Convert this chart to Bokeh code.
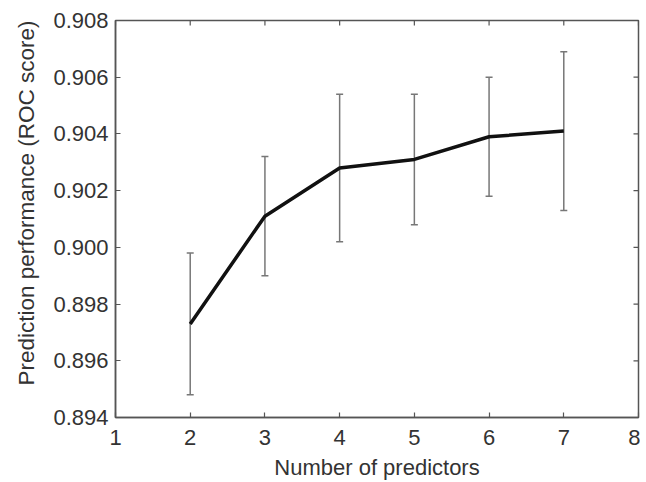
import math
from bokeh.plotting import figure
from bokeh.models import ColumnDataSource, Whisker, TeeHead, FixedTicker, PrintfTickFormatter, Range1d, Title
from bokeh.embed import file_html
from bokeh.resources import INLINE

predictors = [2, 3, 4, 5, 6, 7]
roc_mean = [0.8973, 0.9011, 0.9028, 0.9031, 0.9039, 0.9041]
roc_upper = [0.8998, 0.9032, 0.9054, 0.9054, 0.9060, 0.9069]
roc_lower = [0.8948, 0.8990, 0.9002, 0.9008, 0.9018, 0.9013]
x_ticks = [1, 2, 3, 4, 5, 6, 7, 8]
y_ticks = [0.894, 0.896, 0.898, 0.900, 0.902, 0.904, 0.906, 0.908]
x_min, x_max = 1, 8
y_min, y_max = 0.894, 0.908
x_title = "Number of predictors"
y_title = "Prediction performance (ROC score)"

src = ColumnDataSource(dict(x=predictors, y=roc_mean, upper=roc_upper, lower=roc_lower))

FONT = "Liberation Sans"
AX = "#555555"
TXT = "#333333"

p = figure(width=640, height=482, output_backend="svg", toolbar_location=None,
           x_range=Range1d(x_min, x_max), y_range=Range1d(y_min, y_max),
           min_border_left=115, min_border_right=2, min_border_top=20, min_border_bottom=61)
p.xgrid.visible = False
p.ygrid.visible = False
p.outline_line_color = AX
p.outline_line_width = 1.5
p.background_fill_color = "white"
p.border_fill_color = "white"

for ax in (p.xaxis[0], p.yaxis[0]):
    ax.axis_line_color = AX
    ax.axis_line_width = 1.5
    ax.major_tick_line_color = AX
    ax.major_tick_line_width = 1.2
    ax.major_tick_in = 5
    ax.major_tick_out = 0
    ax.minor_tick_line_color = None
    ax.major_label_text_font = FONT
    ax.major_label_text_color = TXT
    ax.major_label_text_font_size = "22px"
    ax.axis_label_text_font = FONT
    ax.axis_label_text_color = TXT
    ax.axis_label_text_font_style = "normal"

p.xaxis.ticker = FixedTicker(ticks=x_ticks)
p.yaxis.ticker = FixedTicker(ticks=y_ticks)
p.yaxis.formatter = PrintfTickFormatter(format="%.3f")
p.xaxis.axis_label = x_title
p.xaxis.axis_label_text_font_size = "22px"
p.xaxis.major_label_standoff = 12
p.yaxis.major_label_standoff = 7
p.xaxis.axis_label_standoff = 7

# y-axis title, sitting a little above the frame centre as in the original
p.add_layout(Title(text=y_title, align="right", offset=0, text_font=FONT,
                   text_font_size="22.5px", text_font_style="normal",
                   text_color=TXT, standoff=23), "left")

# inward ticks on the right and top edges of the box
p.ray(x=[x_max] * len(y_ticks), y=y_ticks, length=5, length_units="screen",
      angle=math.pi, line_color=AX, line_width=1.2)
p.ray(x=x_ticks, y=[y_max] * len(x_ticks), length=5, length_units="screen",
      angle=-math.pi / 2, line_color=AX, line_width=1.2)

w = Whisker(source=src, base="x", upper="upper", lower="lower",
            line_color="#777777", line_width=1.5,
            upper_head=TeeHead(size=7, line_color="#777777", line_width=1.5),
            lower_head=TeeHead(size=7, line_color="#777777", line_width=1.5))
p.add_layout(w)

p.line("x", "y", source=src, line_color="#111111", line_width=3.5)

open("out.html", "w").write(file_html(p, INLINE))
